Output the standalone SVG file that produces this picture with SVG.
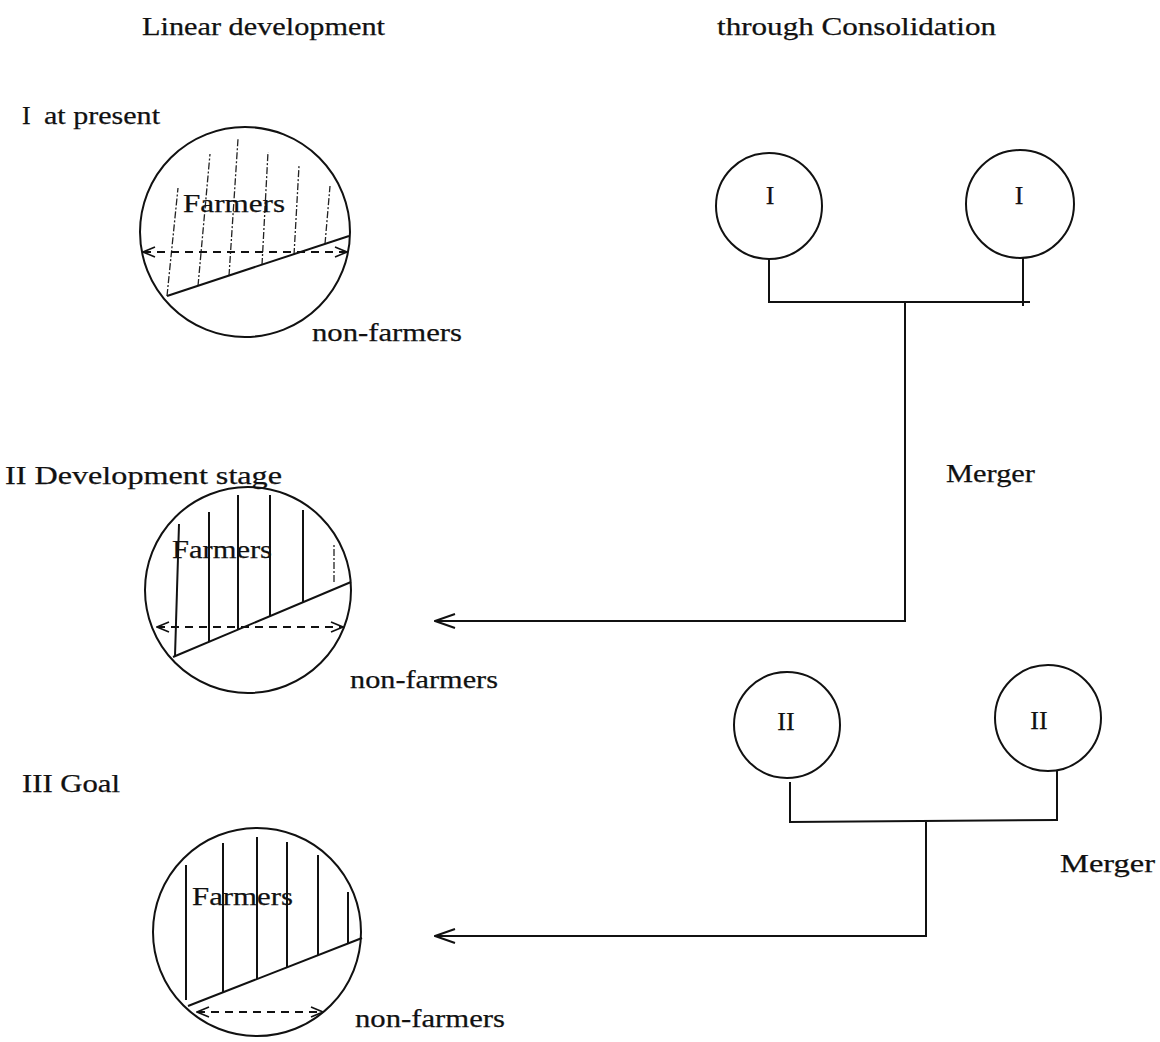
<svg xmlns="http://www.w3.org/2000/svg" width="1160" height="1042" viewBox="0 0 1160 1042">
<defs>
<style>
text{font-family:"Liberation Serif","Times New Roman",serif;font-size:26px;fill:#111;stroke:#111;stroke-width:0.25}
.c{fill:none;stroke:#111;stroke-width:2}
.ln{stroke:#111;stroke-width:2;fill:none}
.hd{stroke:#222;stroke-width:1.3;stroke-dasharray:7 2 2 2;fill:none}
.h{stroke:#111;stroke-width:2;fill:none}
.ds{stroke:#111;stroke-width:1.8;stroke-dasharray:8 6;fill:none}
</style>
<marker id="open" viewBox="0 0 22 16" refX="21" refY="8" markerWidth="22" markerHeight="16" markerUnits="userSpaceOnUse" orient="auto-start-reverse">
<path d="M1,1 L21,8 L1,15" stroke="#111" stroke-width="2" fill="none"/>
</marker>
<marker id="small" viewBox="0 0 14 12" refX="13" refY="6" markerWidth="14" markerHeight="12" markerUnits="userSpaceOnUse" orient="auto-start-reverse">
<path d="M1,1 L13,6 L1,11" stroke="#111" stroke-width="1.6" fill="none"/>
</marker>
</defs>
<rect width="1160" height="1042" fill="#fff"/>

<g id="headings">
<text x="142" y="35" textLength="243" lengthAdjust="spacingAndGlyphs">Linear development</text>
<text x="717" y="35" textLength="279" lengthAdjust="spacingAndGlyphs">through Consolidation</text>
</g>

<g id="stage1">
<text x="22" y="124">I</text>
<text x="44" y="124" textLength="116" lengthAdjust="spacingAndGlyphs">at present</text>
<circle class="c" cx="245" cy="232" r="105"/>
<line class="hd" x1="167" y1="296" x2="178" y2="188"/>
<line class="hd" x1="198" y1="286" x2="210" y2="154"/>
<line class="hd" x1="229" y1="276" x2="238" y2="139"/>
<line class="hd" x1="262" y1="265" x2="268" y2="152"/>
<line class="hd" x1="294" y1="255" x2="299" y2="166"/>
<line class="hd" x1="325" y1="244" x2="330" y2="186"/>
<line class="ds" x1="143" y1="252" x2="347" y2="252" marker-start="url(#small)" marker-end="url(#small)"/>
<line class="ln" x1="167" y1="296" x2="349" y2="236"/>
<text x="183" y="212" textLength="102" lengthAdjust="spacingAndGlyphs">Farmers</text>
<text x="312" y="341" textLength="150" lengthAdjust="spacingAndGlyphs">non-farmers</text>
</g>

<g id="stage2">
<text x="5" y="484" textLength="277" lengthAdjust="spacingAndGlyphs">II Development stage</text>
<circle class="c" cx="248" cy="590" r="103"/>
<line class="h" x1="175" y1="656" x2="179" y2="524"/>
<line class="h" x1="209" y1="642" x2="209" y2="512"/>
<line class="h" x1="238" y1="630" x2="238" y2="495"/>
<line class="h" x1="270" y1="616" x2="270" y2="495"/>
<line class="h" x1="303" y1="602" x2="303" y2="510"/>
<line class="hd" x1="334" y1="582" x2="334" y2="544"/>
<line class="ds" x1="157" y1="627" x2="343" y2="627" marker-start="url(#small)" marker-end="url(#small)"/>
<line class="ln" x1="173" y1="657" x2="351" y2="582"/>
<text x="172" y="558" textLength="100" lengthAdjust="spacingAndGlyphs">Farmers</text>
<text x="350" y="688" textLength="148" lengthAdjust="spacingAndGlyphs">non-farmers</text>
</g>

<g id="stage3">
<text x="22" y="792" textLength="98" lengthAdjust="spacingAndGlyphs">III Goal</text>
<circle class="c" cx="257" cy="932" r="104"/>
<line class="h" x1="186" y1="1000" x2="186" y2="865"/>
<line class="h" x1="223" y1="992" x2="223" y2="843"/>
<line class="h" x1="257" y1="979" x2="257" y2="837"/>
<line class="h" x1="287" y1="967" x2="287" y2="842"/>
<line class="h" x1="318" y1="955" x2="318" y2="855"/>
<line class="h" x1="348" y1="943" x2="348" y2="892"/>
<line class="ds" x1="197" y1="1012" x2="323" y2="1012" marker-start="url(#small)" marker-end="url(#small)"/>
<line class="ln" x1="188" y1="1006" x2="362" y2="938"/>
<text x="192" y="905" textLength="101" lengthAdjust="spacingAndGlyphs">Farmers</text>
<text x="355" y="1027" textLength="150" lengthAdjust="spacingAndGlyphs">non-farmers</text>
</g>

<g id="unitI-left">
<circle class="c" cx="769" cy="206" r="53"/>
<text x="770" y="204" text-anchor="middle">I</text>
</g>
<g id="unitI-right">
<circle class="c" cx="1020" cy="204" r="54"/>
<text x="1019" y="204" text-anchor="middle">I</text>
</g>
<g id="unitII-left">
<circle class="c" cx="787" cy="725" r="53"/>
<text x="786" y="730" text-anchor="middle">II</text>
</g>
<g id="unitII-right">
<circle class="c" cx="1048" cy="718" r="53"/>
<text x="1039" y="729" text-anchor="middle">II</text>
</g>

<g id="connectors">
<polyline class="ln" points="769,259 769,302 1030,302"/>
<line class="ln" x1="1023" y1="257" x2="1023" y2="306"/>
<polyline class="ln" points="905,302 905,621 435,621" marker-end="url(#open)"/>
<polyline class="ln" points="790,782 790,822 1057,820"/>
<line class="ln" x1="1057" y1="771" x2="1057" y2="821"/>
<polyline class="ln" points="926,822 926,936 435,936" marker-end="url(#open)"/>
</g>

<g id="labels">
<text x="946" y="482" textLength="89" lengthAdjust="spacingAndGlyphs">Merger</text>
<text x="1060" y="872" textLength="95" lengthAdjust="spacingAndGlyphs">Merger</text>
</g>
</svg>
